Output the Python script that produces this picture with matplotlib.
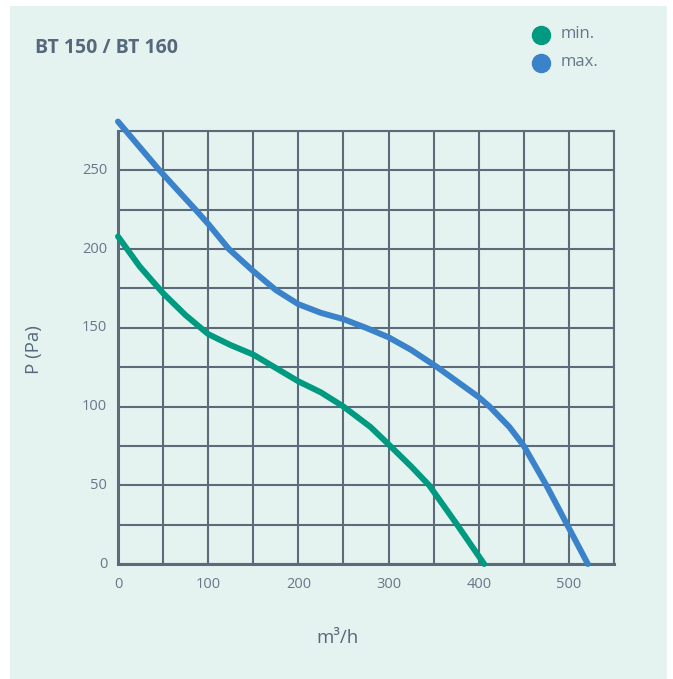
import matplotlib
matplotlib.use("Agg")
import matplotlib.pyplot as plt

# curve values (x: m3/h, y: Pa)
min_x = [0, 24, 50, 75, 100, 125, 150, 200, 225, 250, 280, 300, 325, 345, 376, 406]
min_y = [208, 189, 172, 158, 146, 139, 133, 116, 109, 100, 87, 76, 62, 50, 25, 0]
max_x = [0, 46, 86, 100, 123, 150, 175, 200, 225, 250, 275, 300, 325, 354,
         400, 412, 434, 450, 475, 498, 521]
max_y = [281, 250, 225, 216, 200, 186, 174, 165, 159.5, 155.5, 150, 144, 136, 125,
         106, 100, 87, 75, 50, 25, 0]

x_ticks = [0, 100, 200, 300, 400, 500]
y_ticks = [0, 50, 100, 150, 200, 250]
title = "BT 150 / BT 160"
series_names = ["min.", "max."]

bg = "#e5f3f0"
grid_col = "#5b6b7b"
text_col = "#66778a"
green = "#009a80"
blue = "#3a82c9"

W, H = 673, 679
fig = plt.figure(figsize=(W / 100, H / 100), dpi=100)
fig.patch.set_facecolor("white")

# mint panel behind everything
bg_ax = fig.add_axes([10 / W, 0, 657 / W, 673 / H], zorder=-1)
bg_ax.set_facecolor(bg)
bg_ax.set_xticks([])
bg_ax.set_yticks([])
for s in bg_ax.spines.values():
    s.set_visible(False)

ax = fig.add_axes([118 / W, 115 / H, 496 / W, 433 / H])
ax.set_facecolor(bg)
ax.set_xlim(0, 550)
ax.set_ylim(0, 275)
ax.set_xticks(range(0, 551, 50))
ax.set_yticks(range(0, 276, 25))
ax.grid(True, color=grid_col, linewidth=1.5)
ax.set_axisbelow(True)
ax.tick_params(length=0, labelbottom=False, labelleft=False)
for side in ["top", "right"]:
    ax.spines[side].set_color(grid_col)
    ax.spines[side].set_linewidth(1.5)
for side in ["bottom", "left"]:
    ax.spines[side].set_color(grid_col)
    ax.spines[side].set_linewidth(2.2)

for v in x_ticks:
    ax.text(v, -8, str(v), ha="center", va="top", fontsize=10.5, color=text_col,
            family="Open Sans")
for v in y_ticks:
    ax.text(-12, v, str(v), ha="right", va="center", fontsize=10.5, color=text_col,
            family="Open Sans")

ax.plot(min_x, min_y, color=green, linewidth=4.3, solid_capstyle="round",
        solid_joinstyle="round", clip_on=False, zorder=3)
ax.plot(max_x, max_y, color=blue, linewidth=4.3, solid_capstyle="round",
        solid_joinstyle="round", clip_on=False, zorder=3)

fig.text(35 / W, 1 - 48 / H, title, ha="left", va="center", fontsize=14,
         fontweight="bold", color="#56687b", family="Open Sans")
fig.text(34 / W, 1 - 350 / H, "P (Pa)", ha="center", va="center", rotation=90,
         fontsize=13.5, color="#56687b", family="Open Sans")
fig.text(338 / W, 1 - 638 / H, "m³/h", ha="center", va="center",
         fontsize=13.5, color="#56687b", family="Open Sans")

for i, (name, c) in enumerate(zip(series_names, [green, blue])):
    yy = 1 - (35 + 28 * i) / H
    fig.lines.append(plt.Line2D([541 / W], [yy], marker="o", markersize=13, color=c,
                                transform=fig.transFigure))
    fig.text(561 / W, yy + 1 / H, name, ha="left", va="center", fontsize=12,
             color=text_col, family="Open Sans")

fig.savefig("out.png", dpi=100, facecolor=fig.get_facecolor())
